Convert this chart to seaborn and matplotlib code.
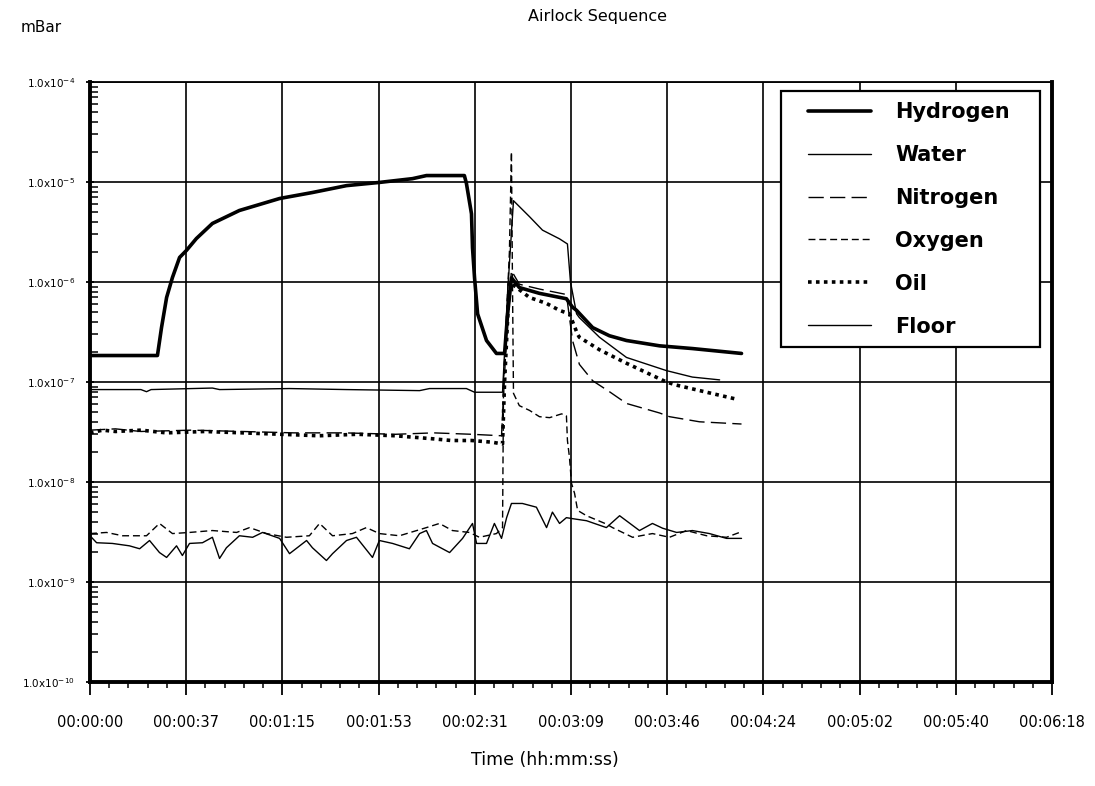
import numpy as np
import pandas as pd
import matplotlib
matplotlib.use("Agg")
import matplotlib.pyplot as plt
from matplotlib.lines import Line2D
from matplotlib.patches import Rectangle
from matplotlib.ticker import FixedLocator, LogLocator, NullFormatter, AutoMinorLocator
import seaborn as sns

# ---- data: elapsed seconds and partial pressure (mBar) per gas ----
hydrogen_t = [0, 26.5, 28.1, 30.1, 32.4, 35.2, 37.9, 41.8, 48.1, 58.7, 74.5, 87.4,
              100.8, 113.7, 126.7, 132.2, 147.1, 147.9, 149.9, 150.3, 151.1, 152.3,
              155.8, 159.7, 162.9, 164.1, 165.6, 168.7, 176.6, 187.2, 189.6, 191.2,
              197.5, 204.1, 210.8, 223.8, 236.7, 256.0]
hydrogen_v = [1.84e-7, 1.84e-7, 3.5e-7, 7.0e-7, 1.11e-6, 1.76e-6, 2.07e-6, 2.72e-6,
              3.85e-6, 5.19e-6, 6.84e-6, 7.85e-6, 9.2e-6, 9.9e-6, 1.08e-5, 1.16e-5,
              1.16e-5, 9.7e-6, 4.8e-6, 2.2e-6, 1.1e-6, 4.8e-7, 2.6e-7, 1.93e-7,
              1.93e-7, 4.8e-7, 1.1e-6, 8.8e-7, 7.7e-7, 6.8e-7, 5.6e-7, 5.2e-7,
              3.5e-7, 2.9e-7, 2.6e-7, 2.3e-7, 2.16e-7, 1.93e-7]

water_t = [0, 20.0, 22.2, 24.0, 48.1, 50.9, 78.4, 100.8, 129.5, 133.4, 147.9, 151.1,
           162.1, 164.1, 166.4, 172.7, 177.8, 184.5, 187.6, 188.8, 191.2, 192.3,
           200.2, 210.8, 226.5, 236.7, 247.4]
water_v = [8.4e-8, 8.4e-8, 8.0e-8, 8.4e-8, 8.7e-8, 8.4e-8, 8.6e-8, 8.4e-8, 8.2e-8,
           8.6e-8, 8.6e-8, 7.9e-8, 7.9e-8, 8.0e-7, 6.5e-6, 4.5e-6, 3.3e-6, 2.7e-6,
           2.4e-6, 1.0e-6, 4.8e-7, 4.4e-7, 2.8e-7, 1.76e-7, 1.3e-7, 1.12e-7, 1.05e-7]

nitrogen_t = [0, 10.0, 20.0, 40.0, 60.0, 80.0, 100.0, 120.0, 135.0, 150.0, 161.7,
              163.7, 165.6, 168.7, 176.6, 187.2, 189.6, 192.3, 197.5, 204.1, 210.8,
              223.8, 227.7, 239.5, 256.0]
nitrogen_v = [3.3e-8, 3.4e-8, 3.2e-8, 3.3e-8, 3.2e-8, 3.1e-8, 3.1e-8, 3.0e-8, 3.1e-8,
              3.0e-8, 2.9e-8, 3.0e-7, 1.3e-6, 9.5e-7, 8.5e-7, 7.5e-7, 2.6e-7, 1.5e-7,
              1.03e-7, 8.0e-8, 6.1e-8, 4.9e-8, 4.5e-8, 4.0e-8, 3.8e-8]

oxygen_t = [0, 6.5, 12.8, 22.2, 27.3, 32.4, 39.1, 48.1, 57.6, 62.7, 69.4, 77.2, 86.2,
            90.2, 95.3, 103.1, 108.6, 113.7, 121.6, 132.2, 137.3, 142.4, 149.1, 153.0,
            159.7, 162.1, 162.5, 164.8, 165.6, 166.0, 166.4, 168.7, 172.7, 176.6,
            180.6, 185.3, 187.2, 187.6, 188.4, 189.2, 190.4, 191.6, 195.1, 202.9,
            205.3, 213.2, 221.0, 227.7, 234.4, 242.3, 250.1, 255.2]
oxygen_v = [3.05e-9, 3.13e-9, 2.9e-9, 2.9e-9, 3.85e-9, 3.05e-9, 3.13e-9, 3.27e-9,
            3.13e-9, 3.5e-9, 3.05e-9, 2.8e-9, 2.9e-9, 3.85e-9, 2.9e-9, 3.05e-9,
            3.5e-9, 3.05e-9, 2.9e-9, 3.5e-9, 3.85e-9, 3.27e-9, 3.13e-9, 2.8e-9,
            3.05e-9, 3.5e-9, 1.0e-7, 2.0e-6, 2.0e-5, 1.0e-6, 7.7e-8, 5.8e-8, 5.2e-8,
            4.5e-8, 4.4e-8, 4.8e-8, 4.6e-8, 2.6e-8, 1.76e-8, 9.7e-9, 7.7e-9, 5.2e-9,
            4.6e-9, 3.8e-9, 3.5e-9, 2.8e-9, 3.05e-9, 2.8e-9, 3.27e-9, 2.9e-9, 2.8e-9,
            3.13e-9]

oil_t = [0, 5.0, 10.0, 20.0, 30.0, 45.0, 60.0, 75.0, 90.0, 105.0, 120.0, 135.0,
         142.0, 150.0, 158.0, 162.1, 162.9, 164.8, 167.6, 172.7, 179.4, 184.5,
         188.4, 191.6, 192.3, 200.2, 210.8, 226.5, 230.5, 242.3, 253.3]
oil_v = [3.1e-8, 3.3e-8, 3.2e-8, 3.3e-8, 3.1e-8, 3.2e-8, 3.1e-8, 3.0e-8, 2.9e-8,
         3.0e-8, 2.9e-8, 2.7e-8, 2.6e-8, 2.6e-8, 2.5e-8, 2.4e-8, 1.0e-7, 1.0e-6,
         8.8e-7, 7.0e-7, 6.1e-7, 5.2e-7, 4.8e-7, 3.0e-7, 2.8e-7, 2.1e-7, 1.54e-7,
         1.0e-7, 9.3e-8, 7.9e-8, 6.8e-8]

floor_t = [0, 2.6, 8.8, 15.5, 19.5, 23.4, 27.3, 30.1, 34.0, 36.3, 39.1, 44.2, 48.1,
           50.9, 53.6, 58.7, 63.9, 67.8, 74.5, 78.4, 85.1, 87.4, 92.9, 95.3, 100.8,
           104.7, 111.0, 113.7, 118.9, 125.5, 129.5, 132.2, 134.6, 141.3, 146.4,
           150.3, 151.9, 155.8, 158.9, 161.7, 163.7, 165.6, 169.9, 175.4, 179.4,
           181.7, 184.5, 187.2, 189.6, 195.1, 202.9, 208.1, 215.9, 221.0, 225.0,
           230.5, 236.7, 243.4, 250.1, 256.0]
floor_v = [2.9e-9, 2.47e-9, 2.43e-9, 2.3e-9, 2.15e-9, 2.6e-9, 1.97e-9, 1.76e-9,
           2.3e-9, 1.84e-9, 2.43e-9, 2.47e-9, 2.8e-9, 1.72e-9, 2.2e-9, 2.9e-9,
           2.8e-9, 3.13e-9, 2.73e-9, 1.92e-9, 2.6e-9, 2.2e-9, 1.64e-9, 1.92e-9,
           2.6e-9, 2.8e-9, 1.76e-9, 2.6e-9, 2.43e-9, 2.15e-9, 3.05e-9, 3.27e-9,
           2.43e-9, 1.97e-9, 2.73e-9, 3.85e-9, 2.43e-9, 2.43e-9, 3.85e-9, 2.73e-9,
           4.4e-9, 6.1e-9, 6.1e-9, 5.6e-9, 3.5e-9, 5.0e-9, 3.85e-9, 4.4e-9, 4.3e-9,
           4.1e-9, 3.5e-9, 4.6e-9, 3.27e-9, 3.85e-9, 3.45e-9, 3.13e-9, 3.27e-9,
           3.05e-9, 2.73e-9, 2.73e-9]

gases = ["Hydrogen", "Water", "Nitrogen", "Oxygen", "Oil", "Floor"]
series = {
    "Hydrogen": (hydrogen_t, hydrogen_v),
    "Water": (water_t, water_v),
    "Nitrogen": (nitrogen_t, nitrogen_v),
    "Oxygen": (oxygen_t, oxygen_v),
    "Oil": (oil_t, oil_v),
    "Floor": (floor_t, floor_v),
}

tick_labels = ["00:00:00", "00:00:37", "00:01:15", "00:01:53", "00:02:31",
               "00:03:09", "00:03:46", "00:04:24", "00:05:02", "00:05:40",
               "00:06:18"]
decade_exponents = [-10, -9, -8, -7, -6, -5, -4]

df = pd.concat(
    [pd.DataFrame({"gas": g, "seconds": series[g][0], "mbar": series[g][1]})
     for g in gases],
    ignore_index=True,
)

# ---- styling ----
sns.set_theme(style="white")
plt.rcParams["font.family"] = ["DejaVu Sans"]
plt.rcParams["mathtext.fontset"] = "dejavusans"
for key in ("text.color", "axes.labelcolor", "xtick.color", "ytick.color",
            "axes.edgecolor"):
    plt.rcParams[key] = "black"

line_styles = {
    "Hydrogen": dict(linewidth=2.6, linestyle="-"),
    "Water": dict(linewidth=1.0, linestyle="-"),
    "Nitrogen": dict(linewidth=1.0, linestyle=(0, (11, 4.5))),
    "Oxygen": dict(linewidth=1.0, linestyle=(0, (5, 2.8))),
    "Oil": dict(linewidth=2.6, linestyle=(0, (1, 1.2))),
    "Floor": dict(linewidth=1.0, linestyle="-"),
}

W, H = 1095, 786
fig = plt.figure(figsize=(W / 100, H / 100), dpi=100)
ax_left, ax_right, ax_top, ax_bottom = 90, 1052, 82, 682
ax = fig.add_axes([ax_left / W, 1 - ax_bottom / H,
                   (ax_right - ax_left) / W, (ax_bottom - ax_top) / H])


def to_axes(px, py):
    """Figure pixel position -> axes fraction."""
    return ((px - ax_left) / (ax_right - ax_left),
            (ax_bottom - py) / (ax_bottom - ax_top))


for g in gases:
    sns.lineplot(data=df[df["gas"] == g], x="seconds", y="mbar", ax=ax,
                 color="black", estimator=None, sort=False, errorbar=None,
                 **line_styles[g])

ax.set_yscale("log")
ax.set_xlim(0, 378)
ax.set_ylim(1e-10, 1e-4)

# x axis: major ticks with time labels, four minor ticks between
ax.xaxis.set_major_locator(FixedLocator(np.linspace(0, 378, len(tick_labels))))
ax.set_xticklabels(tick_labels, fontsize=10.5)
ax.xaxis.set_minor_locator(AutoMinorLocator(5))
ax.tick_params(axis="x", which="major", direction="out", length=9, width=1.3,
               pad=15, bottom=True)
ax.tick_params(axis="x", which="minor", direction="out", length=4, width=1.1,
               bottom=True)

# y axis: decades with log minor ticks drawn inward
ax.yaxis.set_major_locator(FixedLocator([10.0 ** e for e in decade_exponents]))
ax.set_yticklabels([r"1.0x10$^{%d}$" % e for e in decade_exponents], fontsize=7.5)
ax.yaxis.set_minor_locator(LogLocator(base=10, subs=np.arange(2, 10)))
ax.yaxis.set_minor_formatter(NullFormatter())
ax.tick_params(axis="y", which="major", direction="inout", length=6, width=1.3,
               pad=8, left=True)
ax.tick_params(axis="y", which="minor", direction="in", length=6, width=1.1,
               left=True)

ax.grid(True, which="major", color="black", linewidth=1.2)
ax.set_axisbelow(False)

for side, lw in (("left", 2.8), ("bottom", 2.8), ("right", 2.8), ("top", 1.3)):
    ax.spines[side].set_visible(True)
    ax.spines[side].set_color("black")
    ax.spines[side].set_linewidth(lw)

ax.set_xlabel("Time (hh:mm:ss)", fontsize=12.5)
ax.xaxis.set_label_coords(*to_axes(545, 760))
ax.xaxis.label.set_va("center")
ax.set_ylabel("")

fig.text(598 / W, 1 - 16 / H, "Airlock Sequence", ha="center", va="center",
         fontsize=11.5)
fig.text(41 / W, 1 - 27 / H, "mBar", ha="center", va="center", fontsize=11)

# legend: square white box with the line samples and bold names
box_l, box_r, box_t, box_b = 781, 1040, 91, 347
x0, y0 = to_axes(box_l, box_b)
x1, y1 = to_axes(box_r, box_t)
ax.add_patch(Rectangle((x0, y0), x1 - x0, y1 - y0, transform=ax.transAxes,
                       facecolor="white", edgecolor="black", linewidth=1.6,
                       zorder=4, clip_on=False))
handles = [Line2D([], [], color="black", **line_styles[g]) for g in gases]
leg = ax.legend(handles, gases, loc="upper left",
                bbox_to_anchor=to_axes(808, 102), borderaxespad=0, borderpad=0,
                frameon=False, handlelength=3.0, handletextpad=1.2,
                labelspacing=1.1, prop={"weight": "bold", "size": 15})
leg.set_zorder(5)

fig.savefig("out.png", dpi=100, facecolor="white")
